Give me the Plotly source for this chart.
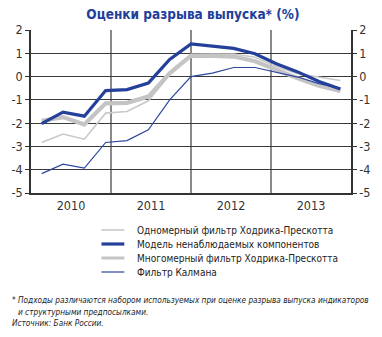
import plotly.graph_objects as go

quarters = list(range(15))  # Q1 2010 .. Q3 2013
years = ["2010", "2011", "2012", "2013"]
year_centers = [1.375, 5.125, 8.875, 12.625]
year_dividers = [3.25, 7.0, 10.75]

names = [
    "Одномерный фильтр Ходрика-Прескотта",
    "Модель ненаблюдаемых компонентов",
    "Многомерный фильтр Ходрика-Прескотта",
    "Фильтр Калмана",
]
hp_uni = [-2.83, -2.47, -2.69, -1.57, -1.50, -1.04, 0.08, 0.95, 0.97, 0.97, 0.83, 0.43, 0.12, -0.02, -0.17]
ucm = [-2.02, -1.53, -1.70, -0.60, -0.56, -0.28, 0.74, 1.40, 1.31, 1.21, 0.98, 0.55, 0.20, -0.21, -0.53]
hp_multi = [-1.90, -1.74, -2.06, -1.15, -1.13, -0.86, 0.14, 0.90, 0.89, 0.86, 0.66, 0.29, -0.07, -0.39, -0.62]
kalman = [-4.17, -3.76, -3.93, -2.83, -2.75, -2.29, -1.00, 0.00, 0.15, 0.39, 0.39, 0.17, -0.02, -0.30, -0.50]

y_ticks = [2, 1, 0, -1, -2, -3, -4, -5]

series = [hp_uni, ucm, hp_multi, kalman]
colors = ["#c9c9c9", "#24409a", "#c4c4c4", "#2a46a0"]
widths = [1.6, 3.2, 4.2, 1.2]
order = [0, 2, 3, 1]

FONT = "DejaVu Sans Condensed, Liberation Sans Narrow, sans-serif"

fig = go.Figure()
for i in order:
    fig.add_trace(go.Scatter(
        x=quarters, y=series[i], mode="lines", name=names[i],
        line=dict(color=colors[i], width=widths[i]), showlegend=False,
    ))
fig.add_trace(go.Scatter(x=quarters, y=kalman, mode="lines", yaxis="y2",
                         line=dict(width=0), opacity=0, showlegend=False, hoverinfo="skip"))

axis_common = dict(range=[-5, 2], tickvals=y_ticks, ticktext=[str(v) for v in y_ticks],
                   tickfont=dict(family=FONT, size=12.5, color="#333"), ticks="outside",
                   ticklen=4, tickcolor="#333", showline=True, linecolor="#333", linewidth=1.5,
                   zeroline=False)

fig.update_layout(
    width=382, height=337,
    margin=dict(l=25, r=21, t=30, b=144),
    paper_bgcolor="white", plot_bgcolor="white",
    title=dict(text="<b>Оценки разрыва выпуска* (%)</b>", x=0.505, xanchor="center",
               y=0.958, yanchor="middle",
               font=dict(family=FONT, size=13.5, color="#22409a")),
    xaxis=dict(range=[-0.5, 14.5], tickvals=year_centers, ticktext=years,
               tickfont=dict(family=FONT, size=12.5, color="#333"), ticks="",
               showgrid=False, zeroline=False, showline=True, linecolor="#333", linewidth=1.5,
               minor=dict(tickvals=year_dividers, showgrid=True, gridcolor="#8a8a8a",
                          gridwidth=1.5, ticks=""),
               fixedrange=True),
    yaxis=dict(**axis_common, showgrid=True, gridcolor="#3a3a3a", gridwidth=1, side="left"),
    yaxis2=dict(**axis_common, overlaying="y", side="right", showgrid=False),
    showlegend=False,
)

# legend drawn manually
leg_y = [230, 244, 258, 272]
for j, i in enumerate([0, 1, 2, 3]):
    yp = (337 - 144 - leg_y[j]) / 163
    fig.add_shape(type="line", xref="paper", yref="paper",
                  x0=(99 - 25) / 336, x1=(123 - 25) / 336, y0=yp, y1=yp,
                  line=dict(color=colors[i], width=widths[i] if i != 2 else 3))
    fig.add_annotation(xref="paper", yref="paper", x=(134 - 25) / 336, y=yp,
                       text=names[i], showarrow=False, xanchor="left", yanchor="middle",
                       font=dict(family=FONT, size=10, color="#222"))

notes = [
    ("* Подходы различаются набором используемых при оценке разрыва выпуска индикаторов", 3, 300),
    ("и структурными предпосылками.", 9, 312),
    ("Источник: Банк России.", 3, 323),
]
for txt, xp, yp in notes:
    fig.add_annotation(xref="paper", yref="paper", x=(xp - 25) / 336, y=(337 - 144 - yp) / 163,
                       text="<i>" + txt + "</i>", showarrow=False, xanchor="left", yanchor="middle",
                       font=dict(family=FONT, size=8.2, color="#222"))

fig.write_html("out.html")
